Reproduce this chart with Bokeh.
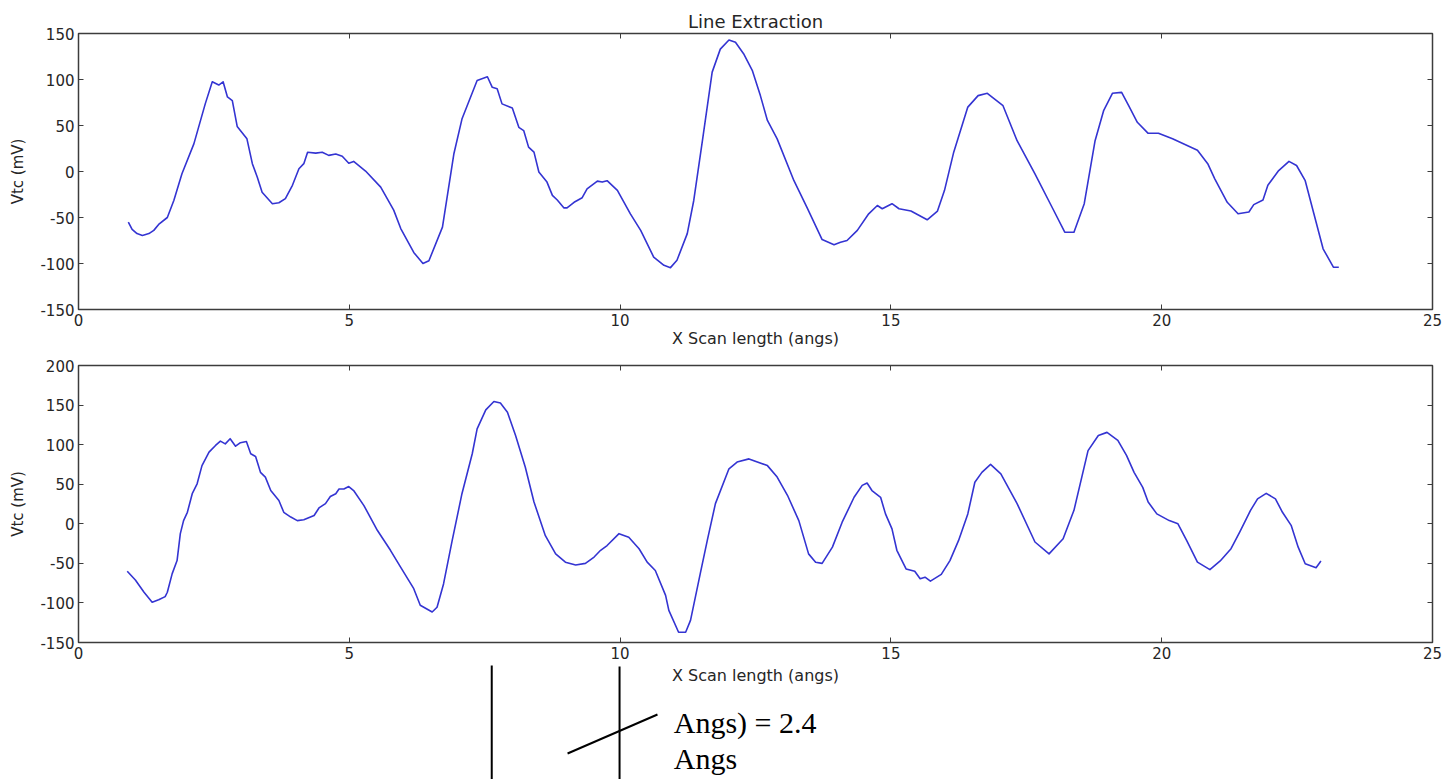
from bokeh.plotting import figure
from bokeh.models import LinearAxis, Range1d, FixedTicker, Label
from bokeh.layouts import column
from bokeh.embed import file_html
from bokeh.resources import INLINE

# ---------------- data ----------------
TITLE = "Line Extraction"
X_LABEL = "X Scan length (angs)"
Y_LABEL = "Vtc (mV)"
X_TICKS = [0, 5, 10, 15, 20, 25]
TOP_Y_TICKS = [-150, -100, -50, 0, 50, 100, 150]
BOTTOM_Y_TICKS = [-150, -100, -50, 0, 50, 100, 150, 200]
NOTE_LINE_1 = "Angs) = 2.4"
NOTE_LINE_2 = "Angs"

top_x = [0.92, 0.99, 1.08, 1.18, 1.30, 1.39, 1.48, 1.64, 1.76, 1.91, 2.13, 2.34, 2.47, 2.59, 2.67,
         2.75, 2.84, 2.93, 3.11, 3.21, 3.30, 3.39, 3.58, 3.70, 3.82, 3.95, 4.07, 4.16, 4.23, 4.38,
         4.50, 4.62, 4.75, 4.87, 4.99, 5.08, 5.30, 5.58, 5.82, 5.95, 6.19, 6.36, 6.47, 6.72, 6.93,
         7.08, 7.36, 7.55, 7.64, 7.73, 7.82, 8.01, 8.13, 8.22, 8.31, 8.41, 8.50, 8.65, 8.75, 8.84,
         8.96, 9.02, 9.15, 9.30, 9.39, 9.58, 9.67, 9.76, 9.95, 10.19, 10.38, 10.62, 10.81, 10.93,
         11.05, 11.24, 11.36, 11.52, 11.70, 11.85, 12.01, 12.13, 12.28, 12.44, 12.59, 12.72, 12.90,
         13.21, 13.45, 13.73, 13.95, 14.07, 14.19, 14.38, 14.59, 14.75, 14.84, 15.02, 15.15, 15.37,
         15.67, 15.86, 15.99, 16.16, 16.42, 16.61, 16.78, 17.07, 17.33, 17.66, 17.99, 18.21, 18.38,
         18.57, 18.77, 18.93, 19.09, 19.26, 19.39, 19.55, 19.75, 19.94, 20.20, 20.66, 20.85, 20.98,
         21.21, 21.41, 21.61, 21.70, 21.87, 21.96, 22.16, 22.35, 22.49, 22.65, 22.81, 22.98, 23.17,
         23.27]
top_y = [-55, -63, -67.5, -69.5, -67.5, -64, -57.5, -50, -31.5, -2.5, 30, 73.5, 97.5, 94, 97.5,
         81, 77, 49, 35.5, 8.5, -6, -22.5, -35, -34, -29.5, -15, 3, 8.5, 21, 20,
         21, 17.5, 19, 16.5, 9, 11, 0.5, -17, -42, -62, -88, -100, -97, -60.5, 19,
         57, 99, 103, 91.5, 90, 73.5, 69, 48, 44.5, 26.5, 21, -0.5, -11.5, -26, -31,
         -39.5, -39.5, -33.5, -28.5, -19, -10.5, -11.5, -10, -20.5, -46, -64, -93, -102, -104.5,
         -96.5, -67.5, -31.5, 33.5, 108, 133, 143, 140.5, 128, 110, 82.5, 55.5, 35.5,
         -10, -39, -74, -79.5, -77, -75, -64, -46, -37, -40.5, -35, -40.5, -43,
         -52.5, -43, -20.5, 21, 70, 82.5, 85, 71.5, 33.5, -2.5, -40.5, -66, -66,
         -35, 33.5, 66.5, 85, 86, 71.5, 53.5, 41.5, 41.5, 35.5, 23, 8.5, -8,
         -33.5, -46, -44, -36, -31, -15, 1, 11, 6.5, -10, -46, -84, -104,
         -104]

bottom_x = [0.90, 1.05, 1.21, 1.36, 1.48, 1.60, 1.64, 1.73, 1.82, 1.88, 1.94, 2.01, 2.10, 2.19,
            2.28, 2.41, 2.53, 2.62, 2.71, 2.80, 2.90, 2.99, 3.10, 3.18, 3.27, 3.36, 3.45, 3.55,
            3.70, 3.79, 3.92, 4.04, 4.16, 4.35, 4.44, 4.56, 4.65, 4.75, 4.81, 4.90, 4.99, 5.08,
            5.27, 5.52, 5.76, 5.95, 6.19, 6.31, 6.53, 6.62, 6.74, 6.90, 7.08, 7.27, 7.36, 7.52,
            7.67, 7.79, 7.92, 8.07, 8.25, 8.41, 8.62, 8.81, 8.99, 9.18, 9.36, 9.52, 9.64, 9.76,
            9.98, 10.16, 10.35, 10.50, 10.65, 10.84, 10.90, 11.08, 11.21, 11.30, 11.48, 11.61,
            11.76, 12.01, 12.16, 12.38, 12.72, 12.90, 13.09, 13.30, 13.48, 13.61, 13.73, 13.92,
            14.10, 14.32, 14.47, 14.56, 14.65, 14.81, 14.90, 15.02, 15.11, 15.28, 15.44, 15.54,
            15.63, 15.73, 15.93, 16.09, 16.25, 16.42, 16.55, 16.68, 16.84, 17.03, 17.33, 17.66,
            17.92, 18.18, 18.38, 18.64, 18.83, 18.99, 19.19, 19.35, 19.49, 19.65, 19.75, 19.91,
            20.14, 20.30, 20.46, 20.66, 20.89, 21.08, 21.28, 21.44, 21.64, 21.77, 21.93, 22.10,
            22.23, 22.39, 22.52, 22.65, 22.85, 22.94]
bottom_y = [-60, -71, -86.5, -99, -96, -92, -86.5, -63, -46.5, -12.5, 4, 14.5, 38, 50.5,
            73.5, 90.5, 99, 104.5, 101, 107.5, 98, 102.5, 104, 88.5, 85, 65, 59, 42,
            29.5, 14.5, 8.5, 4, 5, 10.5, 20, 25.5, 34.5, 38, 44, 44, 47, 42,
            23, -8.5, -33.5, -55, -82, -103, -111.5, -105.5, -76, -21, 38, 88.5, 120, 144,
            154.5, 152.5, 141, 111.5, 71.5, 27.5, -15, -38, -48.5, -52, -50, -42, -33.5, -27.5,
            -12.5, -17, -31.5, -48.5, -59, -90.5, -109.5, -137, -137, -122, -63, -21,
            25.5, 69.5, 78, 82, 73.5, 59, 36, 4, -38, -48.5, -50, -29.5,
            2, 33.5, 48.5, 51.5, 42, 33.5, 12.5, -6.5, -33.5, -57, -60, -69.5,
            -67.5, -72.5, -64, -46.5, -21, 12.5, 52.5, 65, 75, 63, 25.5, -23,
            -38, -19, 17, 92.5, 111.5, 115.5, 105.5, 86.5, 65, 46, 27.5, 12.5,
            4, 0, -21, -48.5, -58, -47, -31.5, -10.5, 17, 31.5, 38.5, 31.5,
            14.5, -2, -29.5, -50.5, -55.5, -47]

# ---------------- style ----------------
FONT = "DejaVu Sans"
TEXT_COLOR = "#262626"
FRAME_COLOR = "#3c3c3c"
LINE_COLOR = "#3434d2"
WIDTH = 1454
TICK_FONT = "15px"
XLABEL_FONT = "16px"
NOTE_FONT = "Liberation Serif"
NOTE_SIZE = "30px"


def style_axis(ax, show_labels, ticks):
    ax.ticker = FixedTicker(ticks=ticks)
    ax.axis_line_color = None
    ax.major_tick_in = 5
    ax.major_tick_out = 0
    ax.minor_tick_line_color = None
    ax.major_tick_line_color = FRAME_COLOR
    ax.major_tick_line_width = 1
    ax.major_label_text_font = FONT
    if show_labels:
        ax.major_label_text_font_size = TICK_FONT
        ax.major_label_text_color = TEXT_COLOR
        ax.major_label_standoff = 4
        ax.major_label_overrides = {t: str(t) for t in ticks}
    else:
        ax.major_label_text_font_size = "1px"
        ax.major_label_text_color = None
        ax.major_label_standoff = 0
    ax.axis_label_text_font = FONT
    ax.axis_label_text_font_style = "normal"
    ax.axis_label_text_color = TEXT_COLOR


def make_panel(xs, ys, y_lo, y_hi, y_ticks, height, border_top, border_bottom,
               title_text=None, x_label=None):
    p = figure(width=WIDTH, height=height, title=None,
               x_range=Range1d(0, 25), y_range=Range1d(y_lo, y_hi),
               output_backend="svg", toolbar_location=None,
               min_border_left=78, min_border_right=22,
               min_border_top=border_top, min_border_bottom=border_bottom,
               background_fill_color="white", border_fill_color="white")
    p.outline_line_color = FRAME_COLOR
    p.outline_line_width = 1.5
    p.xgrid.visible = False
    p.ygrid.visible = False
    p.line(xs, ys, line_color=LINE_COLOR, line_width=1.6, line_join="round")

    bottom = p.xaxis[0]
    left = p.yaxis[0]
    style_axis(bottom, True, X_TICKS)
    style_axis(left, True, y_ticks)
    if x_label:
        bottom.axis_label = x_label
        bottom.axis_label_text_font_size = XLABEL_FONT
        bottom.axis_label_standoff = 0
    left.axis_label = Y_LABEL
    left.axis_label_text_font_size = "15px"
    left.axis_label_standoff = 10

    top_ax = LinearAxis()
    style_axis(top_ax, False, X_TICKS)
    if title_text:
        top_ax.axis_label = title_text
        top_ax.axis_label_text_font_size = "18px"
        top_ax.axis_label_standoff = 2
    p.add_layout(top_ax, "above")

    right_ax = LinearAxis()
    style_axis(right_ax, False, y_ticks)
    p.add_layout(right_ax, "right")
    return p


p1 = make_panel(top_x, top_y, -150, 150, TOP_Y_TICKS, 352, 33, 43, TITLE, X_LABEL)
p2 = make_panel(bottom_x, bottom_y, -150, 200, BOTTOM_Y_TICKS, 312, 13, 22)

# strip below the lower plot: its x-axis title and the leftover annotation fragments
NOTE_H = 115
p3 = figure(width=WIDTH, height=NOTE_H, title=None, x_range=p2.x_range, y_range=Range1d(NOTE_H, 0),
            output_backend="svg", toolbar_location=None,
            x_axis_location=None, y_axis_location=None,
            min_border_left=78, min_border_right=22, min_border_top=0, min_border_bottom=0,
            background_fill_color="white", border_fill_color="white", outline_line_color=None)
p3.grid.visible = False

# annotation fragments (x in scan-length units, y in px from the top of the strip)
note_seg_x0 = [7.63, 9.99, 9.03]
note_seg_y0 = [1, 2, 89]
note_seg_x1 = [7.63, 9.99, 10.69]
note_seg_y1 = [NOTE_H, NOTE_H, 50]
p3.segment(note_seg_x0, note_seg_y0, note_seg_x1, note_seg_y1, line_color="black", line_width=2)

p3.add_layout(Label(x=12.5, y=11, text=X_LABEL, text_font=FONT, text_font_size=XLABEL_FONT,
                    text_color=TEXT_COLOR, text_align="center", text_baseline="alphabetic"))
p3.add_layout(Label(x=10.99, y=58, text=NOTE_LINE_1, text_font=NOTE_FONT, text_font_size=NOTE_SIZE,
                    text_color="black", text_baseline="alphabetic"))
p3.add_layout(Label(x=10.99, y=94, text=NOTE_LINE_2, text_font=NOTE_FONT, text_font_size=NOTE_SIZE,
                    text_color="black", text_baseline="alphabetic"))

layout = column(p1, p2, p3, spacing=0)
open("out.html", "w").write(file_html(layout, INLINE))
